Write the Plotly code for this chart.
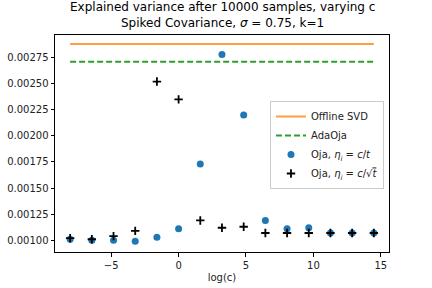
import numpy as np
import plotly.graph_objects as go

# exponents i for c = 5**i ; x axis shows log(c)
c_exponents = [-5, -4, -3, -2, -1, 0, 1, 2, 3, 4, 5, 6, 7, 8, 9]
log_c = [float(np.log(5.0 ** i)) for i in c_exponents]

offline_svd = 0.00288
adaoja = 0.00271

oja_c_over_t = [0.00101, 0.00100, 0.00100, 0.00099, 0.00103, 0.00111, 0.00173,
                0.00278, 0.00220, 0.00119, 0.00111, 0.00112, 0.00107, 0.00107, 0.00107]
oja_c_over_sqrt_t = [0.00102, 0.00101, 0.00104, 0.00109, 0.00252, 0.00235, 0.00119,
                     0.00112, 0.00113, 0.00107, 0.00107, 0.00107, 0.00107, 0.00107, 0.00107]

y_ticks = [0.00100, 0.00125, 0.00150, 0.00175, 0.00200, 0.00225, 0.00250, 0.00275]
x_ticks = [-5, 0, 5, 10, 15]
x_tick_text = ["−5", "0", "5", "10", "15"]

title_line1 = "Explained variance after 10000 samples, varying c"
title_line2 = "Spiked Covariance, <i>σ</i> = 0.75, k=1"

font = "DejaVu Sans"
L, R, T, B = 55, 43, 35, 36
plot_h = 288 - T - B

fig = go.Figure()
x_ends = [log_c[0], log_c[-1]]
fig.add_trace(go.Scatter(x=x_ends, y=[offline_svd] * 2, mode="lines",
                         line=dict(color="rgba(255,140,30,0.85)", width=2),
                         name="Offline SVD"))
fig.add_trace(go.Scatter(x=x_ends, y=[adaoja] * 2, mode="lines",
                         line=dict(color="#2ca02c", width=2, dash="6px,3px"),
                         name="AdaOja"))
fig.add_trace(go.Scatter(x=log_c, y=oja_c_over_t, mode="markers",
                         marker=dict(color="#1f77b4", size=7),
                         name="Oja, <i>η<sub>i</sub></i> = <i>c</i>/<i>t</i>"))
fig.add_trace(go.Scatter(x=log_c, y=oja_c_over_sqrt_t, mode="markers",
                         marker=dict(color="black", size=6, symbol="cross-thin",
                                     line=dict(color="black", width=1.8)),
                         name="Oja, <i>η<sub>i</sub></i> = <i>c</i>/√<span style='text-decoration:overline'><i>t</i></span>"))

axis_common = dict(showline=True, linecolor="black", linewidth=1, mirror=True,
                   ticks="outside", ticklen=3.5, tickwidth=1, tickcolor="black",
                   showgrid=False, zeroline=False, automargin=False,
                   tickfont=dict(family=font, size=10, color="#222"))
fig.update_xaxes(range=[-9.17, 15.61], tickvals=x_ticks, ticktext=x_tick_text,
                 title=dict(text="log(c)", font=dict(family=font, size=10, color="#222"),
                            standoff=4),
                 **axis_common)
fig.update_yaxes(range=[0.000888, 0.002966], tickvals=y_ticks,
                 tickformat=".5f", **axis_common)

title_font = dict(family=font, size=12, color="black")
fig.add_annotation(text=title_line1, xref="paper", yref="paper", x=0.5,
                   y=1 + (T - 7) / plot_h, xanchor="center", yanchor="middle",
                   showarrow=False, font=title_font)
fig.add_annotation(text=title_line2, xref="paper", yref="paper", x=0.5,
                   y=1 + (T - 23) / plot_h, xanchor="center", yanchor="middle",
                   showarrow=False, font=title_font)

fig.update_layout(
    width=432, height=288,
    margin=dict(l=L, r=R, t=T, b=B, autoexpand=False),
    paper_bgcolor="white", plot_bgcolor="white",
    legend=dict(x=0.985, xanchor="right", y=(252 - 101) / plot_h, yanchor="top",
                bgcolor="rgba(255,255,255,0.8)", bordercolor="#ccc", borderwidth=1,
                font=dict(family=font, size=10, color="#222"),
                tracegroupgap=0, itemwidth=30),
    showlegend=True,
)

fig.write_html("out.html", config={"displayModeBar": False},
               post_script="document.body.style.margin='0';document.body.style.overflow='hidden';")
